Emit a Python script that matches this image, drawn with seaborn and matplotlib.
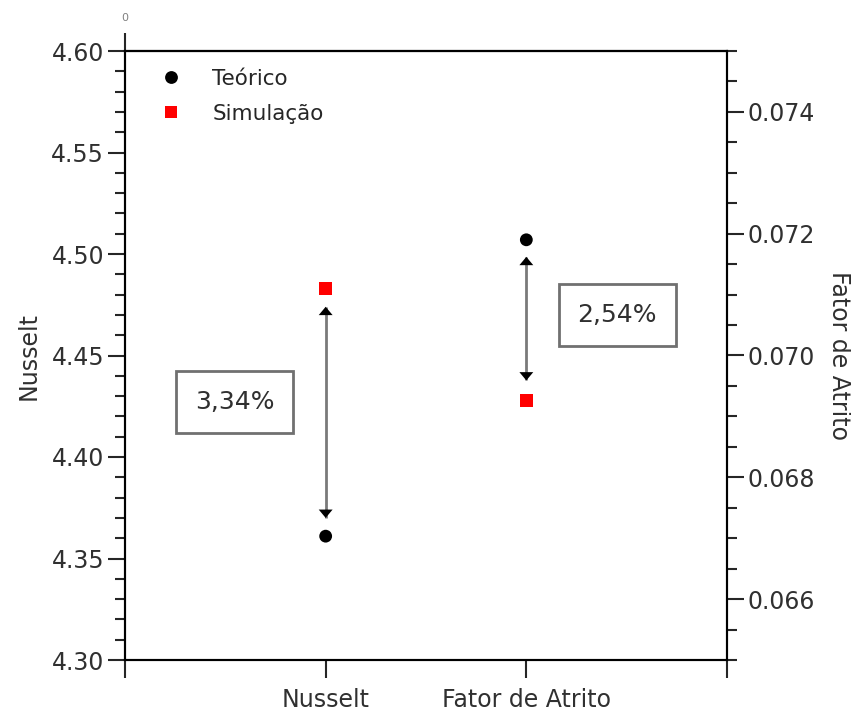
import pandas as pd
import numpy as np
import matplotlib
matplotlib.use('Agg')
import matplotlib.pyplot as plt
import seaborn as sns
from matplotlib.ticker import MultipleLocator, FormatStrFormatter

# Data
categories = ['Nusselt', 'Fator de Atrito']
tipos = ['Teórico', 'Simulação']
nusselt_vals = [4.361, 4.483]          # Teórico, Simulação (left axis)
atrito_vals = [0.07190, 0.06926]       # Teórico, Simulação (right axis)
diff_labels = ['3,34%', '2,54%']
# arrow ends (bottom, top) for each category
nusselt_arrow = [4.370, 4.474]
atrito_arrow = [0.06959, 0.07162]

pos = {c: i + 1 for i, c in enumerate(categories)}

df_nu = pd.DataFrame({'x': [pos['Nusselt']] * 2, 'valor': nusselt_vals, 'Tipo': tipos})
df_fa = pd.DataFrame({'x': [pos['Fator de Atrito']] * 2, 'valor': atrito_vals, 'Tipo': tipos})

sns.set_style('ticks')
plt.rcParams['font.family'] = ['DejaVu Sans']

palette = {'Teórico': 'black', 'Simulação': 'red'}
markers = {'Teórico': 'o', 'Simulação': 's'}

fig = plt.figure(figsize=(8.51, 7.15), dpi=100)
ax = fig.add_axes([125/851, 1 - 660/715, (727-125)/851, (660-51)/715])
ax2 = ax.twinx()

sns.scatterplot(data=df_nu, x='x', y='valor', hue='Tipo', style='Tipo', palette=palette,
                markers=markers, s=85, linewidth=0, ax=ax, zorder=5)
sns.scatterplot(data=df_fa, x='x', y='valor', hue='Tipo', style='Tipo', palette=palette,
                markers=markers, s=85, linewidth=0, ax=ax2, legend=False, zorder=5)

ax.set_xlim(0, 3)
ax.set_ylim(4.30, 4.60)
ax2.set_ylim(0.065, 0.075)

ax.set_xticks([0, 1, 2, 3])
ax.set_xticklabels(['', 'Nusselt', 'Fator de Atrito', ''])
ax.yaxis.set_major_locator(MultipleLocator(0.05))
ax.yaxis.set_minor_locator(MultipleLocator(0.01))
ax.yaxis.set_major_formatter(FormatStrFormatter('%.2f'))
ax2.yaxis.set_major_locator(MultipleLocator(0.002))
ax2.yaxis.set_minor_locator(MultipleLocator(0.0005))
ax2.yaxis.set_major_formatter(FormatStrFormatter('%.3f'))

tick_color = '#303030'
for a in (ax, ax2):
    a.tick_params(axis='both', which='major', length=12, width=1.5, labelsize=17,
                  labelcolor=tick_color, direction='out', pad=3)
    a.tick_params(axis='y', which='minor', length=7, width=1.5, direction='out')
    for sp in a.spines.values():
        sp.set_linewidth(1.5)
        sp.set_color('black')
ax.tick_params(axis='x', length=13, pad=7)

ax.set_xlabel('')
ax.set_ylabel('Nusselt', fontsize=17, color=tick_color, labelpad=8)
ax2.set_ylabel('Fator de Atrito', fontsize=17, color=tick_color, rotation=270, labelpad=26)

# small top tick with "0"
secax = ax.secondary_xaxis('top')
secax.set_xticks([0])
secax.set_xticklabels(['0'])
secax.tick_params(length=13, width=1.5, labelsize=8, labelcolor='grey', pad=7)
secax.spines['top'].set_linewidth(1.5)


def double_arrow(a, x, y0, y1):
    a.plot([x, x], [y0, y1], color='#7a7a7a', lw=2, zorder=3, solid_capstyle='butt')
    for yy, off in ((y1, -9), (y0, 9)):
        a.annotate('', xy=(x, yy), xytext=(0, off), textcoords='offset points',
                   arrowprops=dict(arrowstyle='-|>,head_length=0.6,head_width=0.5',
                                   color='black', lw=0, shrinkA=0, shrinkB=0), zorder=4)


double_arrow(ax, pos['Nusselt'], nusselt_arrow[0], nusselt_arrow[1])
double_arrow(ax2, pos['Fator de Atrito'], atrito_arrow[0], atrito_arrow[1])

box = dict(boxstyle='square,pad=0.75', fc='white', ec='#707070', lw=2)
ax.text(0.548, 4.427, diff_labels[0], fontsize=18, color=tick_color, ha='center', va='center', bbox=box)
ax.text(2.452, 4.470, diff_labels[1], fontsize=18, color=tick_color, ha='center', va='center', bbox=box)

handles, labels = ax.get_legend_handles_labels()
ax.legend(handles, labels, loc='upper left', bbox_to_anchor=(0.045, 0.985), frameon=False,
          fontsize=15.5, handlelength=1, handletextpad=1.4, labelspacing=0.7, borderaxespad=0)

plt.savefig('out.png', dpi=100)
